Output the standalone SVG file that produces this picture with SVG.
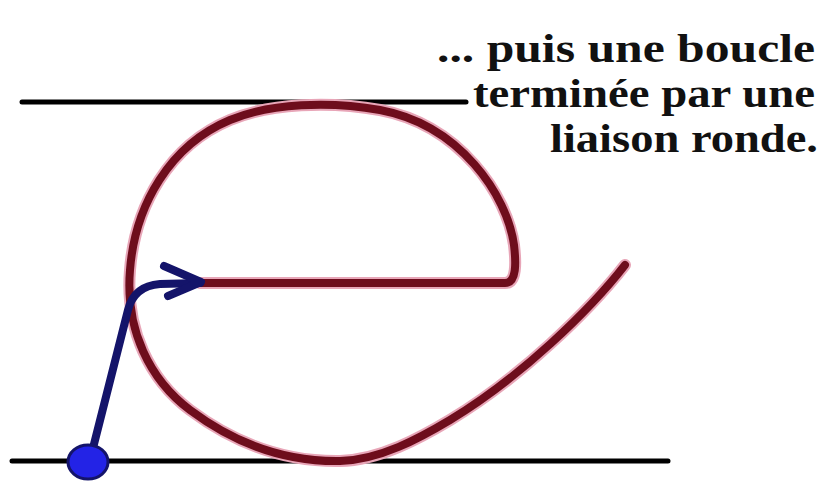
<svg xmlns="http://www.w3.org/2000/svg" width="832" height="482" viewBox="0 0 832 482">
<style>
.guide{stroke:#000;stroke-width:5;stroke-linecap:round;fill:none}
.halo{stroke:#e8a6b8;stroke-width:12;fill:none;stroke-linecap:round;stroke-linejoin:round}
.ink{stroke:#6e0d1c;stroke-width:8;fill:none;stroke-linecap:round;stroke-linejoin:round}
.blue{stroke:#14146a;stroke-width:8;fill:none;stroke-linecap:round;stroke-linejoin:round}
.lbl{font-family:"Liberation Serif","Times New Roman",serif;font-weight:bold;font-size:39px;fill:#111;text-anchor:end}
</style>
<rect width="832" height="482" fill="#fff"/>
<g id="guides">
<line class="guide" x1="22" y1="102" x2="466" y2="102"/>
<line class="guide" x1="12" y1="461" x2="668" y2="461" stroke-width="6"/>
</g>
<g id="letter-e">
<path class="halo" d="M 200 283 L 505 283 C 517 283 516 262 514 245 C 507 195 460 125 380 110 C 330 101 270 103 230 120 C 170 145 135 205 130 270 C 125 330 150 380 190 410 C 230 440 280 462 340 461 C 380 460 420 438 450 420 C 520 378 590 310 625 265"/>
<path class="ink" d="M 200 283 L 505 283 C 517 283 516 262 514 245 C 507 195 460 125 380 110 C 330 101 270 103 230 120 C 170 145 135 205 130 270 C 125 330 150 380 190 410 C 230 440 280 462 340 461 C 380 460 420 438 450 420 C 520 378 590 310 625 265"/>
</g>
<g id="connectors">
<path class="blue" d="M 92 452 L 128 310 Q 134 286 160 284 L 200 283"/>
<path class="blue" d="M 164 266 L 201 282 L 168 296" stroke-width="9"/>
</g>
<g id="start-dot">
<ellipse cx="88" cy="462" rx="20" ry="17" fill="#2323e6" stroke="#14146a" stroke-width="3"/>
</g>
<g id="caption">
<text class="lbl" x="815" y="62" textLength="378" lengthAdjust="spacingAndGlyphs">... puis une boucle</text>
<text class="lbl" x="815" y="107" textLength="342" lengthAdjust="spacingAndGlyphs">terminée par une</text>
<text class="lbl" x="818" y="152" textLength="268" lengthAdjust="spacingAndGlyphs">liaison ronde.</text>
</g>
</svg>
